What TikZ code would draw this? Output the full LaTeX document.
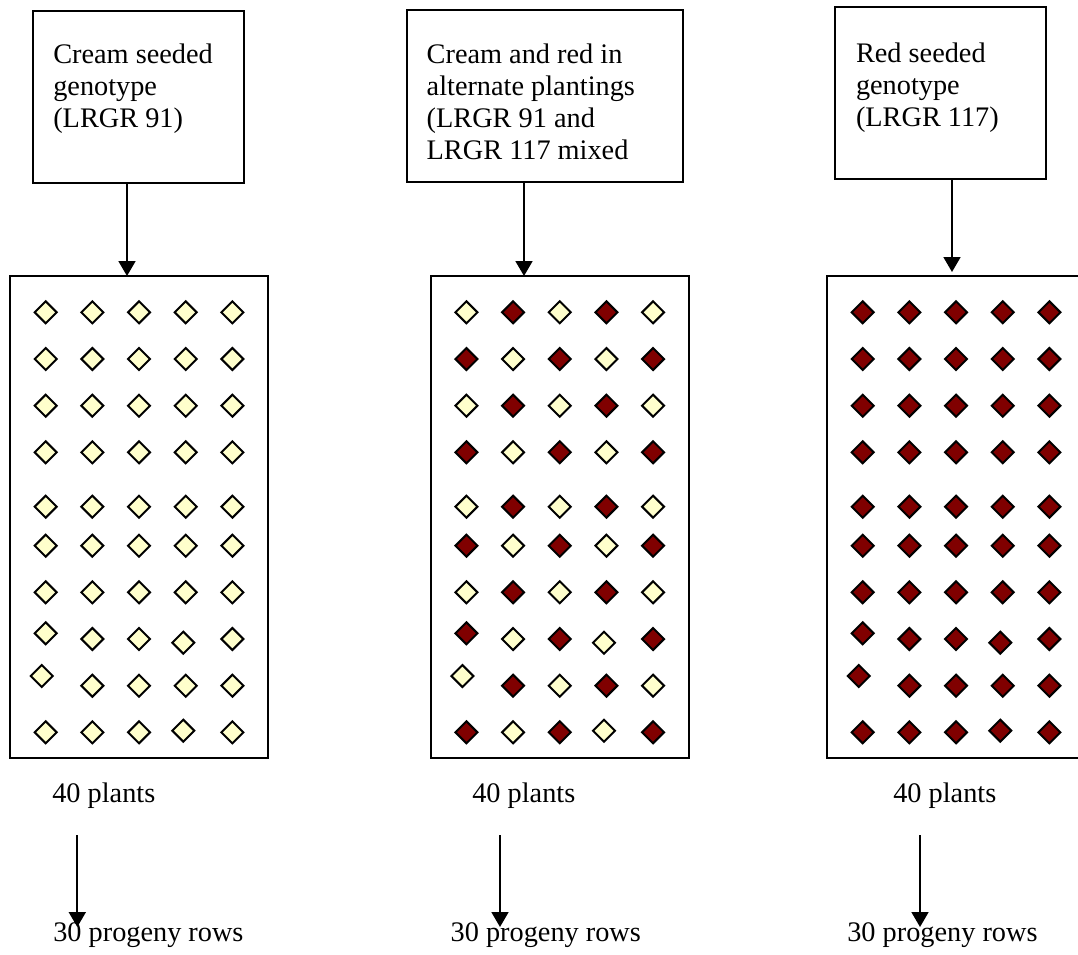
\documentclass[tikz,border=0pt]{standalone}
\usepackage{fontspec}
\setmainfont{Liberation Serif}
\usetikzlibrary{arrows.meta}
\definecolor{cream}{HTML}{FFFFCC}
\definecolor{seedred}{HTML}{800000}
\tikzset{
  box/.style={draw, line width=2pt, inner sep=0pt, outer sep=0pt, anchor=north west},
  txt/.style={anchor=base west, inner sep=0pt, outer sep=0pt, font=\fontsize{28.3}{32.3}\selectfont},
  seed/.style={draw, line width=2pt, line join=miter},
  arr/.style={-{Triangle[width=17pt,length=15pt]}, line width=1.8pt}
}
\newcommand\seedfield[3]{%
  \foreach \r/\y in {1/312.3,2/359,3/405.7,4/452.3,5/506.7,6/545.7,7/592.3,8/639,9/685.7,10/732.3}{
    \foreach \c in {1,...,5}{
      \pgfmathsetmacro\dx{35.7+46.67*(\c-1)}
      \edef\dy{\y}
      \ifnum\r=8 \ifnum\c=1 \def\dy{633.3}\fi \ifnum\c=4 \def\dx{173.3}\def\dy{642.7}\fi\fi
      \ifnum\r=9 \ifnum\c=1 \def\dx{31.7}\def\dy{676}\fi\fi
      \ifnum\r=10 \ifnum\c=4 \def\dx{173.3}\def\dy{730.7}\fi\fi
      \pgfmathtruncatemacro\oddcell{mod(\r+\c,2)}
      \ifcase#3 \def\fc{cream}\or \ifnum\oddcell=1 \def\fc{seedred}\else\def\fc{cream}\fi\or \def\fc{seedred}\fi
      \coordinate (#2-\r-\c) at ({#1+\dx},\dy);
      \filldraw[seed, fill=\fc] (#2-\r-\c) ++(-11,0) -- ++(11,-11) -- ++(11,11) -- ++(-11,11) -- cycle;
    }
  }
}
\begin{document}
\begin{tikzpicture}[x=1pt,y=-1pt]
\useasboundingbox (0,0) rectangle (1078,954);
\fill[white] (0,0) rectangle (1078,954);
\begin{scope}
\clip (0,0) rectangle (1078,954);
% top boxes
\node[box, minimum width=210.7pt, minimum height=172pt] (b1) at (33.3,11) {};
\node[box, minimum width=276pt, minimum height=172pt] (b2) at (406.7,10) {};
\node[box, minimum width=211pt, minimum height=172pt] (b3) at (835,7) {};
\node[txt] (t1) at (53.3,63) {\parbox[t]{200pt}{\raggedright Cream seeded\\genotype\\(LRGR 91)}};
\node[txt] (t2) at (426.7,63) {\parbox[t]{260pt}{\raggedright Cream and red in\\alternate plantings\\(LRGR 91 and\\LRGR 117 mixed}};
\node[txt] (t3) at (856,62) {\parbox[t]{200pt}{\raggedright Red seeded\\genotype\\(LRGR 117)}};
% fields
\node[box, minimum width=258pt, minimum height=482pt] (r1) at (10,276) {};
\node[box, minimum width=258pt, minimum height=482pt] (r2) at (430.7,276) {};
\node[box, minimum width=258pt, minimum height=482pt] (r3) at (827,276) {};
\seedfield{10}{f1}{0}
\seedfield{430.7}{f2}{1}
\seedfield{827}{f3}{2}
% arrows top
\coordinate (x1) at (127,0);
\coordinate (x2) at (524,0);
\coordinate (x3) at (952,0);
\draw[arr] (b1.south -| x1) -- (r1.north -| x1);
\draw[arr] (b2.south -| x2) -- (r2.north -| x2);
\draw[arr, shorten >=4pt] (b3.south -| x3) -- (r3.north -| x3);
% bottom labels
\node[txt] (p1) at (52.3,802.7) {40 plants};
\node[txt] (p2) at (472.3,802.7) {40 plants};
\node[txt] (p3) at (893.3,802.7) {40 plants};
\node[txt] (q1) at (53.3,941.7) {30 progeny rows};
\node[txt] (q2) at (450.7,941.7) {30 progeny rows};
\node[txt] (q3) at (847.3,941.7) {30 progeny rows};
\coordinate (s1) at (77.3,835);   \coordinate (e1) at (77.3,927);
\coordinate (s2) at (500,835);    \coordinate (e2) at (500,927);
\coordinate (s3) at (920,835);    \coordinate (e3) at (920,927);
\draw[arr] (s1) -- (e1);
\draw[arr] (s2) -- (e2);
\draw[arr] (s3) -- (e3);
\end{scope}
\end{tikzpicture}
\end{document}
